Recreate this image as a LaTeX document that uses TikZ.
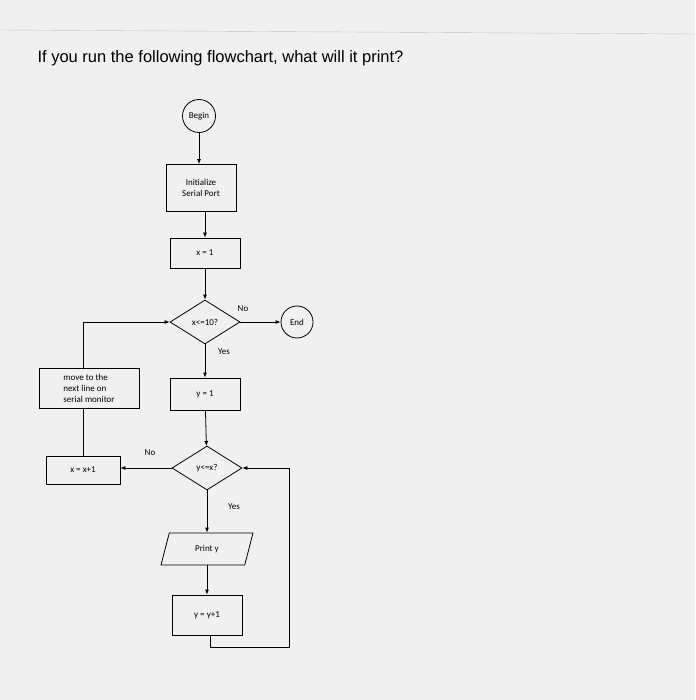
\documentclass[tikz,border=0pt]{standalone}
\usepackage{fontspec}
\setmainfont{Liberation Sans}
\newfontfamily\calfnt{Carlito}
\usetikzlibrary{shapes.geometric,arrows.meta}
\begin{document}
\begin{tikzpicture}[x=1pt,y=-1pt,
  box/.style={draw,thick,minimum width=70pt,align=center,font=\calfnt\fontsize{9}{11}\selectfont},
  dec/.style={draw,thick,diamond,aspect=1.6,minimum width=70pt,minimum height=44pt,inner sep=0pt,font=\calfnt\fontsize{9}{11}\selectfont},
  term/.style={draw,thick,circle,minimum size=33pt,inner sep=0pt,font=\calfnt\fontsize{9}{11}\selectfont},
  lab/.style={font=\calfnt\fontsize{9}{11}\selectfont},
  ar/.style={thick,-{Latex[length=5pt,width=4pt]}},
  ln/.style={thick}]
\fill[gray!12] (0,0) rectangle (695,700);
\useasboundingbox (0,0) rectangle (695,700);
\draw[gray!50] (0,30) -- (695,34);
\node[anchor=west,font=\fontsize{16.5}{20}\selectfont] (title) at (34,58) {If you run the following flowchart, what will it print?};
\node[term] (begin) at (199,116) {Begin};
\node[box,minimum height=47pt] (init) at (201,188) {Initialize\\Serial Port};
\node[box,minimum height=30pt] (x1) at (205,253) {x = 1};
\node[dec] (d1) at (205,322) {x<=10?};
\node[term,minimum size=32pt] (end) at (297,322) {End};
\node[box,minimum height=32pt] (y1) at (205,394) {y = 1};
\node[dec] (d2) at (207,468) {y<=x?};
\node[box,minimum width=74pt,minimum height=28pt] (xinc) at (83,470) {x = x+1};
\node[box,minimum width=100pt,minimum height=40pt,align=left] (move) at (89,388) {move to the\\next line on\\serial monitor};
\node[draw,thick,trapezium,trapezium left angle=60,trapezium right angle=120,trapezium stretches body,minimum width=92pt,minimum height=32pt,font=\calfnt\fontsize{9}{11}\selectfont] (print) at (207,549) {Print y};
\node[box,minimum height=40pt] (yinc) at (207,615) {y = y+1};
\node[lab] (no1) at (243,309) {No};
\node[lab] (yes1) at (224,352) {Yes};
\node[lab] (no2) at (150,453) {No};
\node[lab] (yes2) at (234,507) {Yes};
\coordinate (lt) at (83,322);
\coordinate (rb1) at (210,647);
\coordinate (rb2) at (289,647);
\coordinate (rb3) at (289,468);
\draw[ar] (begin) -- (init.north -| begin);
\draw[ar] (init.south -| x1) -- (x1);
\draw[ar] (x1) -- (d1);
\draw[ar] (d1) -- (end);
\draw[ar] (d1) -- (y1);
\draw[ar] (y1) -- (d2);
\draw[ar] (d2.west) -- (d2.west -| xinc.east);
\draw[ar] (d2) -- (print);
\draw[ar] (print.south -| yinc) -- (yinc);
\draw[ln] (xinc.north) -- (move.south -| xinc.north);
\draw[ar] (move.north -| lt) -- (lt) -- (d1.west);
\draw[ar] (yinc.south -| rb1) -- (rb1) -- (rb2) -- (rb3) -- (d2.east);
\end{tikzpicture}
\end{document}
